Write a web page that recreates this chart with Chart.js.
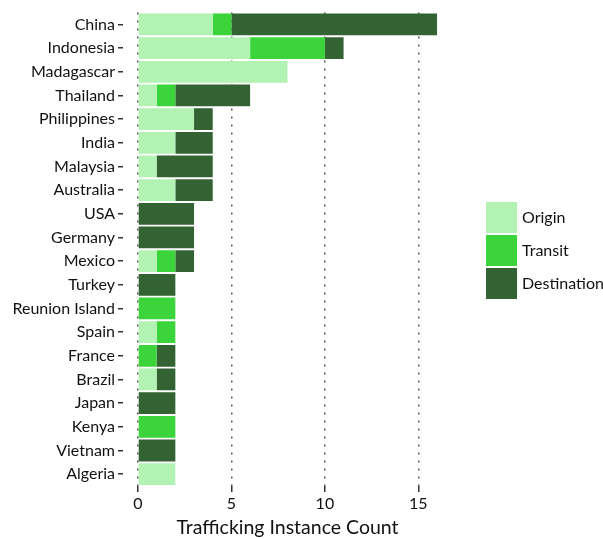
<!DOCTYPE html>
<html>
<head>
<meta charset="utf-8">
<script src="https://cdn.jsdelivr.net/npm/chart.js@4/dist/chart.umd.min.js"></script>
<style>
  body { margin: 0; background: #fff; }
  canvas { display: block; }
</style>
</head>
<body>
<canvas id="chart" width="603" height="539"></canvas>
<script>
// data
const countries = ['China', 'Indonesia', 'Madagascar', 'Thailand', 'Philippines', 'India',
  'Malaysia', 'Australia', 'USA', 'Germany', 'Mexico', 'Turkey', 'Reunion Island', 'Spain',
  'France', 'Brazil', 'Japan', 'Kenya', 'Vietnam', 'Algeria'];
const origin      = [4, 6, 8, 1, 3, 2, 1, 2, 0, 0, 1, 0, 0, 1, 0, 1, 0, 0, 0, 2];
const transit     = [1, 4, 0, 1, 0, 0, 0, 0, 0, 0, 1, 0, 2, 1, 1, 0, 0, 2, 0, 0];
const destination = [11, 1, 0, 4, 1, 2, 3, 2, 3, 3, 1, 2, 0, 0, 1, 1, 2, 0, 2, 0];
const xTicks = [0, 5, 10, 15];

const FONT = 'Lato, "DejaVu Sans", sans-serif';
const TEXT = '#111';

// legend drawn on the right, like the ggplot key
const keyLegend = {
  id: 'keyLegend',
  afterDraw(chart) {
    const ctx = chart.ctx;
    ctx.save();
    chart.data.datasets.forEach((ds, i) => {
      const y = 202 + i * 33;
      ctx.fillStyle = ds.backgroundColor;
      ctx.fillRect(486, y, 31, 31);
      ctx.fillStyle = TEXT;
      ctx.font = '16px ' + FONT;
      ctx.textBaseline = 'middle';
      ctx.fillText(ds.label, 522, y + 16);
    });
    ctx.restore();
  }
};

new Chart(document.getElementById('chart').getContext('2d'), {
  type: 'bar',
  data: {
    labels: countries,
    datasets: [
      { label: 'Origin', data: origin, backgroundColor: '#b2f2b2' },
      { label: 'Transit', data: transit, backgroundColor: '#3bd43b' },
      { label: 'Destination', data: destination, backgroundColor: '#336233' }
    ]
  },
  options: {
    indexAxis: 'y',
    responsive: false,
    animation: false,
    layout: { padding: { top: 7, right: 151, left: 0, bottom: 0 } },
    datasets: { bar: { categoryPercentage: 1, barPercentage: 0.92 } },
    plugins: { legend: { display: false }, tooltip: { enabled: false } },
    scales: {
      x: {
        stacked: true,
        min: -0.8,
        max: 16.8,
        z: 1,
        afterBuildTicks: s => { s.ticks = xTicks.map(v => ({ value: v })); },
        afterFit: s => { s.height = 53; },
        border: { display: false, dash: [2, 6] },
        grid: {
          color: '#555',
          lineWidth: 1.5,
          tickLength: 6,
          tickColor: '#333',
          tickBorderDash: [1, 0]
        },
        ticks: { color: TEXT, font: { family: FONT, size: 16 }, padding: 2 },
        title: {
          display: true,
          text: 'Trafficking Instance Count',
          color: TEXT,
          font: { family: FONT, size: 19.5 },
          padding: { top: 0, bottom: 0 }
        }
      },
      y: {
        stacked: true,
        afterFit: s => { s.width = 123; },
        border: { display: false },
        grid: {
          drawOnChartArea: false,
          offset: false,
          tickLength: 5,
          color: '#333',
          lineWidth: 1.5
        },
        ticks: { color: TEXT, font: { family: FONT, size: 16 }, padding: 3 }
      }
    }
  },
  plugins: [keyLegend]
});
</script>
</body>
</html>
